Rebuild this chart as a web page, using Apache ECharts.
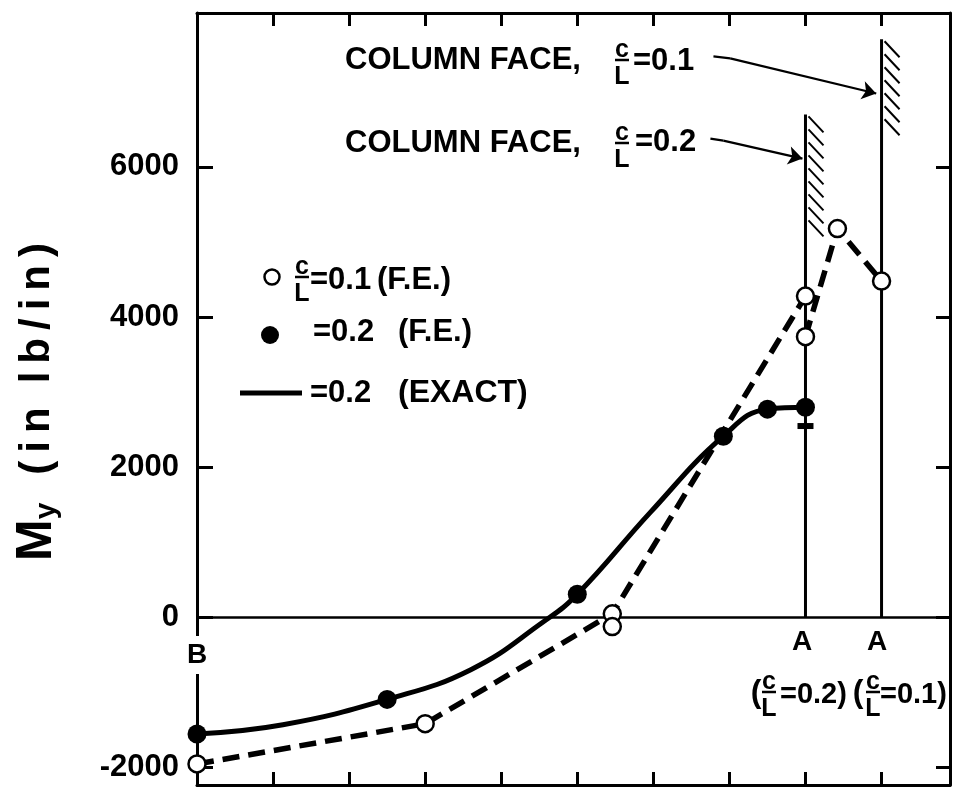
<!DOCTYPE html>
<html><head><meta charset="utf-8">
<script src="https://cdn.jsdelivr.net/npm/echarts@6/dist/echarts.min.js"></script>
<style>html,body{margin:0;padding:0;background:#fff}#c{width:956px;height:803px}</style>
</head><body><div id="c"></div>
<script>
// ---------- data ----------
const yTickValues = [-2000, 0, 2000, 4000, 6000];
const yTickLabels = ['-2000', '0', '2000', '4000', '6000'];
const xTickValues = [1, 2, 3, 4, 5, 6, 7, 8, 9];

// c/L = 0.1 (F.E.) open circles
const fe01X = [0, 3.0, 5.46, 5.46, 8.0, 8.0, 8.42, 9.0];
const fe01Y = [-1950, -1414, 50, -120, 4280, 3740, 5180, 4480];
const fe01Path1 = [0, 1, 2, 4];
const fe01Path2 = [5, 6, 7];

// c/L = 0.2 (F.E.) filled circles
const fe02X = [0, 2.5, 5.0, 6.92, 7.5, 8.0];
const fe02Y = [-1550, -1090, 310, 2415, 2775, 2800];

// c/L = 0.2 (EXACT) solid curve
const exactX = [0, 1.13, 2.5, 3.6, 4.55, 5.0, 5.96, 6.92, 7.5, 8.0];
const exactY = [-1550, -1428, -1090, -694, -60, 310, 1400, 2415, 2775, 2800];
const exactEndX = [8.0];
const exactEndY = [2550];

// column faces
const columnX = [8, 9];
const columnTop = [6700, 7700];
const hatchBottom = [5200, 6500];

// annotation arrows (start, bend, tip)
const arrow01 = [[6.79, 7472], [7.01, 7445], [8.93, 6978]];
const arrow02 = [[6.75, 6378], [6.92, 6351], [7.96, 6111]];

// ---------- chart ----------
const F = '"Liberation Sans", Arial, sans-serif';
const font = s => `bold ${s}px ${F}`;
const BLACK = '#000';

const pts = (xs, ys) => xs.map((x, i) => [x, ys[i]]);
const pick = idx => idx.map(i => [fe01X[i], fe01Y[i]]);

function txt(text, x, y, size, align) {
  return {type: 'text', x, y, z: 100,
    style: {text, font: font(size), fill: BLACK, align: align || 'left', verticalAlign: 'middle'}};
}
function frac(cx, barY, size) {
  return [
    {type: 'text', x: cx, y: barY - 10, z: 100, style: {text: 'c', font: font(size), fill: BLACK, align: 'center', verticalAlign: 'middle'}},
    {type: 'line', z: 100, shape: {x1: cx - 7, y1: barY, x2: cx + 7, y2: barY}, style: {stroke: BLACK, lineWidth: 2.5}},
    {type: 'text', x: cx, y: barY + 17, z: 100, style: {text: 'L', font: font(size), fill: BLACK, align: 'center', verticalAlign: 'middle'}}
  ];
}

const yNameRich = '{m|M}{s|y}{g| }' + '(in lb/in)'.split('').map(ch => ch === ' ' ? '{w| }' : `{p|${ch}}`).join('');

const graphics = [].concat(
  [txt('COLUMN FACE,', 345, 60, 31)], frac(622, 60, 25), [txt('=0.1', 633, 61, 31)],
  [txt('COLUMN FACE,', 345, 143, 31)], frac(622, 143, 25), [txt('=0.2', 635, 142, 31)],
  // legend
  [{type: 'circle', z: 100, shape: {cx: 272, cy: 277, r: 7.5}, style: {fill: '#fff', stroke: BLACK, lineWidth: 2.5}}],
  frac(302, 277, 25),
  [txt('=0.1', 310, 280, 31), txt('(F.E.)', 377, 280, 31)],
  [{type: 'circle', z: 100, shape: {cx: 270, cy: 335, r: 9}, style: {fill: BLACK}}],
  [txt('=0.2', 313, 332, 31), txt('(F.E.)', 398, 332, 31)],
  [{type: 'line', z: 100, shape: {x1: 240, y1: 393, x2: 302, y2: 393}, style: {stroke: BLACK, lineWidth: 5}}],
  [txt('=0.2', 310, 393, 31), txt('(EXACT)', 398, 393, 32)],
  // A labels
  [txt('A', 802, 642, 28, 'center'), txt('A', 877, 642, 28, 'center')],
  [txt('(', 756, 693, 32, 'center')], frac(769, 692, 25), [txt('=0.2)', 780, 695, 29)],
  [txt('(', 858, 693, 32, 'center')], frac(873, 692, 25), [txt('=0.1)', 880, 695, 29)],
  // B label
  [{type: 'text', x: 197, y: 655, z: 100, style: {text: 'B', font: font(28), fill: BLACK, align: 'center', verticalAlign: 'middle', backgroundColor: '#fff', padding: [5, 3]}}],
  // y axis name
  [{type: 'text', x: 37, y: 400, rotation: Math.PI / 2, z: 100,
    style: {text: yNameRich, align: 'center', verticalAlign: 'middle', fill: BLACK,
      rich: {
        m: {font: font(50), fill: BLACK},
        s: {font: font(30), fill: BLACK, verticalAlign: 'bottom', padding: [16, 0, 0, 0]},
        g: {font: font(42), width: 24},
        w: {font: font(42), width: 16},
        p: {font: font(42), fill: BLACK, padding: [0, 4]}
      }}}]
);

const axisCommon = {
  axisLine: {show: true, onZero: false, lineStyle: {color: BLACK, width: 3}},
  splitLine: {show: false}
};

const option = {
  animation: false,
  backgroundColor: '#fff',
  grid: {left: 197, right: 6, top: 13, bottom: 18},
  xAxis: [
    Object.assign({type: 'value', min: 0, max: 9.9, position: 'bottom',
      axisTick: {show: true, inside: true, length: 13, customValues: xTickValues, lineStyle: {color: BLACK, width: 3}},
      axisLabel: {show: false}}, axisCommon),
    Object.assign({type: 'value', min: 0, max: 9.9, position: 'top',
      axisTick: {show: true, inside: true, length: 13, customValues: xTickValues, lineStyle: {color: BLACK, width: 3}},
      axisLabel: {show: false}}, axisCommon)
  ],
  yAxis: [
    Object.assign({type: 'value', min: -2230, max: 8050, position: 'left',
      axisTick: {show: true, inside: true, length: 16, customValues: yTickValues, lineStyle: {color: BLACK, width: 3}},
      axisLabel: {show: true, customValues: yTickValues, margin: 18, color: BLACK, fontSize: 31, fontWeight: 'bold', fontFamily: F,
        formatter: v => yTickLabels[yTickValues.indexOf(v)]}}, axisCommon),
    Object.assign({type: 'value', min: -2230, max: 8050, position: 'right',
      axisTick: {show: true, inside: true, length: 14, customValues: yTickValues, lineStyle: {color: BLACK, width: 3}},
      axisLabel: {show: false}}, axisCommon)
  ],
  graphic: graphics,
  series: [
    {
      type: 'custom', name: 'columns', z: 1, silent: true, clip: false,
      data: columnX.map((x, i) => [x, columnTop[i], hatchBottom[i]]),
      renderItem: (params, api) => {
        const x = api.value(0), top = api.value(1), hb = api.value(2);
        const p0 = api.coord([x, 0]), p1 = api.coord([x, top]), p2 = api.coord([x, hb]);
        const children = [{type: 'line', shape: {x1: p0[0], y1: p0[1], x2: p1[0], y2: p1[1]}, style: {stroke: BLACK, lineWidth: 3}}];
        for (let y = p1[1] + 2; y < p2[1]; y += 13) {
          children.push({type: 'line', shape: {x1: p1[0] + 3, y1: y, x2: p1[0] + 18, y2: y + 16}, style: {stroke: BLACK, lineWidth: 2}});
        }
        return {type: 'group', children};
      }
    },
    {
      type: 'line', name: 'exact', z: 2, silent: true,
      data: pts(exactX, exactY), smooth: 0.45, showSymbol: false,
      lineStyle: {color: BLACK, width: 5},
      markLine: {silent: true, symbol: 'none', label: {show: false},
        lineStyle: {color: BLACK, width: 2.5, type: 'solid'}, data: [{yAxis: 0}]}
    },
    {
      type: 'line', name: 'fe01a', z: 3, silent: true, data: pick(fe01Path1), showSymbol: false,
      lineStyle: {color: BLACK, width: 5.5, type: [17, 9], cap: 'butt'}
    },
    {
      type: 'line', name: 'fe01b', z: 3, silent: true, data: pick(fe01Path2), showSymbol: false,
      lineStyle: {color: BLACK, width: 5.5, type: [17, 9], cap: 'butt'}
    },
    {
      type: 'scatter', name: 'fe02', z: 4, silent: true, data: pts(fe02X, fe02Y),
      symbol: 'circle', symbolSize: 19, itemStyle: {color: BLACK, opacity: 1}
    },
    {
      type: 'scatter', name: 'exactEnd', z: 4, silent: true, data: pts(exactEndX, exactEndY),
      symbol: 'rect', symbolSize: [16, 6], itemStyle: {color: BLACK, opacity: 1}
    },
    {
      type: 'scatter', name: 'fe01', z: 5, silent: true, data: pts(fe01X, fe01Y),
      symbol: 'circle', symbolSize: 17, itemStyle: {color: '#fff', borderColor: BLACK, borderWidth: 2.5, opacity: 1}
    },
    {
      type: 'lines', name: 'arrowStubs', coordinateSystem: 'cartesian2d', z: 6, silent: true,
      symbol: ['none', 'none'],
      lineStyle: {color: BLACK, width: 2.2, opacity: 1, curveness: 0},
      data: [{coords: [arrow01[0], arrow01[1]]}, {coords: [arrow02[0], arrow02[1]]}]
    },
    {
      type: 'lines', name: 'arrows', coordinateSystem: 'cartesian2d', z: 6, silent: true,
      symbol: ['none', 'arrow'], symbolSize: 14,
      lineStyle: {color: BLACK, width: 2.2, opacity: 1, curveness: 0},
      data: [{coords: [arrow01[1], arrow01[2]]}, {coords: [arrow02[1], arrow02[2]]}]
    }
  ]
};

const chart = echarts.init(document.getElementById('c'));
chart.setOption(option);
</script>
</body></html>
